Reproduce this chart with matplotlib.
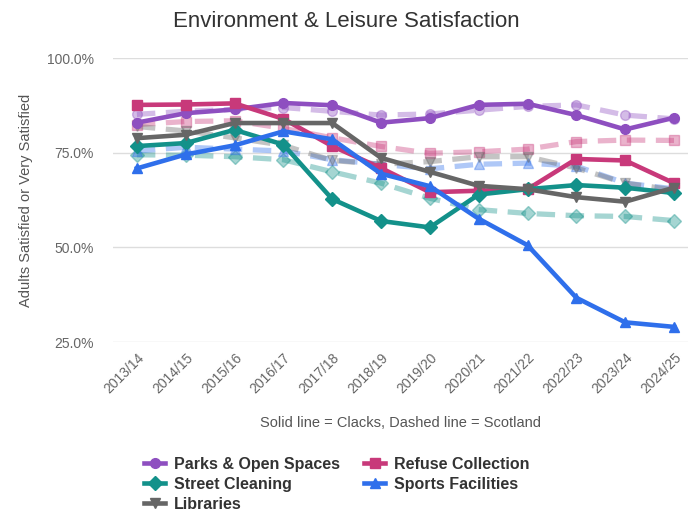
import matplotlib.pyplot as plt
import numpy as np
from matplotlib.ticker import PercentFormatter

plt.rcParams['font.family'] = ['Liberation Sans', 'DejaVu Sans']

years = ["2013/14", "2014/15", "2015/16", "2016/17", "2017/18", "2018/19",
         "2019/20", "2020/21", "2021/22", "2022/23", "2023/24", "2024/25"]

# Clacks (solid) and Scotland (dashed), % satisfied
parks_clacks = [83.0, 85.5, 86.5, 88.2, 87.6, 83.0, 84.2, 87.7, 88.0, 85.0, 81.2, 84.3]
parks_scot = [85.2, 86.0, 86.5, 87.0, 86.0, 85.0, 85.3, 86.3, 87.3, 87.7, 85.0, 84.0]
refuse_clacks = [87.7, 87.8, 88.1, 84.0, 76.8, 71.0, 64.6, 65.0, 65.4, 73.4, 73.0, 67.0]
refuse_scot = [82.5, 83.3, 83.5, 81.5, 79.0, 76.7, 74.9, 75.3, 76.0, 78.0, 78.4, 78.3]
street_clacks = [76.8, 77.6, 81.1, 77.2, 62.8, 57.0, 55.3, 64.0, 65.4, 66.5, 65.8, 64.4]
street_scot = [74.5, 74.4, 74.0, 73.2, 70.0, 67.0, 63.0, 60.0, 59.0, 58.4, 58.2, 57.1]
sports_clacks = [70.9, 74.6, 77.0, 80.7, 78.6, 69.5, 66.2, 57.6, 50.6, 36.7, 30.2, 29.0]
sports_scot = [75.5, 76.5, 76.0, 75.5, 73.2, 72.0, 70.8, 72.0, 72.3, 71.5, 67.0, 65.5]
libraries_clacks = [78.9, 79.8, 82.9, 82.9, 82.9, 73.7, 70.0, 66.3, 65.4, 63.3, 62.1, 65.8]
libraries_scot = [82.0, 80.8, 79.0, 77.0, 73.0, 72.0, 72.7, 74.0, 74.0, 71.0, 67.0, 65.2]

series = [
    ("Parks & Open Spaces", parks_clacks, parks_scot, "#8E4FC0", "o"),
    ("Refuse Collection", refuse_clacks, refuse_scot, "#C8397A", "s"),
    ("Street Cleaning", street_clacks, street_scot, "#13918A", "D"),
    ("Sports Facilities", sports_clacks, sports_scot, "#2F6FEB", "^"),
    ("Libraries", libraries_clacks, libraries_scot, "#666666", "v"),
]

fig = plt.figure(figsize=(6.93, 5.12), dpi=100)
ax = fig.add_axes([0.163, 0.332, 0.83, 0.554])
x = np.arange(len(years))

# dashed Scotland lines first, then solid Clacks on top
for name, cl, sc, col, mk in series:
    ax.plot(x, sc, color=col, alpha=0.38, lw=3.8, ls=(0, (3.5, 2)),
            marker=mk, ms=7, zorder=2)

handles = {}
for name, cl, sc, col, mk in series:
    h, = ax.plot(x, cl, color=col, lw=3.3, marker=mk, ms=7, zorder=3,
                 label=name)
    handles[name] = h

ax.set_xlim(-0.49, 11.29)
ax.set_ylim(25, 100)
ax.set_yticks([25, 50, 75, 100])
ax.yaxis.set_major_formatter(PercentFormatter(decimals=1))
ax.set_xticks(x)
ax.set_xticklabels(years, rotation=45, ha="right", rotation_mode="anchor")
ax.grid(axis="y", color="#dddddd", lw=1)
ax.set_axisbelow(True)
for s in ax.spines.values():
    s.set_visible(False)
ax.tick_params(length=0, colors="#666666", labelsize=10)
ax.tick_params(axis="y", pad=14)
ax.tick_params(axis="x", pad=6)

ax.set_ylabel("Adults Satisfied or Very Satisfied", color="#555555",
              fontsize=10.5, labelpad=10)
ax.set_xlabel("Solid line = Clacks, Dashed line = Scotland", color="#555555",
              fontsize=10.5, labelpad=14)
fig.suptitle("Environment & Leisure Satisfaction", x=0.5, y=0.978,
             fontsize=16, color="#333333")

order = ["Parks & Open Spaces", "Street Cleaning", "Libraries",
         "Refuse Collection", "Sports Facilities"]
fig.legend([handles[n] for n in order], order, ncol=2, loc="upper left",
           bbox_to_anchor=(0.208, 0.108), frameon=False, handlelength=1.3,
           handletextpad=0.55, columnspacing=1.55, labelspacing=0.32,
           prop={"weight": "bold", "size": 11.5}, labelcolor="#333333",
           borderaxespad=0, borderpad=0)

fig.savefig("out.png", dpi=100)
